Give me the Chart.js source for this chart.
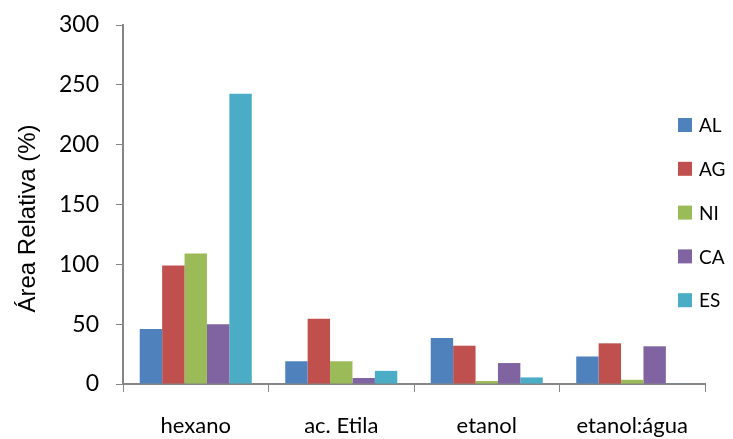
<!DOCTYPE html>
<html>
<head>
<meta charset="utf-8">
<script src="https://cdn.jsdelivr.net/npm/chart.js@4"></script>
<style>
    body { margin: 0; background: #fff; }
    #chart { display: block; }
</style>
</head>
<body>
<canvas id="chart" width="733" height="439"></canvas>
<script>
const categories = ['hexano', 'ac. Etila', 'etanol', 'etanol:água'];
const seriesNames = ['AL', 'AG', 'NI', 'CA', 'ES'];
const alValues = [46, 19, 38.5, 23];
const agValues = [99, 54.5, 32, 34];
const niValues = [109, 19, 2.5, 3.5];
const caValues = [50, 5, 17.5, 31.5];
const esValues = [242.5, 11, 5.5, 0.5];
const yTicks = [0, 50, 100, 150, 200, 250, 300];
const yTitle = 'Área Relativa (%)';

const colors = ['#4F81BD', '#C0504D', '#9BBB59', '#8064A2', '#4BACC6'];
const allValues = [alValues, agValues, niValues, caValues, esValues];

const fontFamily = 'Lato, "Liberation Sans", sans-serif';

// legend drawn over the plot, the way the original sits; y title sits a bit low too
const extras = {
    id: 'extras',
    afterDraw(chart) {
        const ctx = chart.ctx;
        ctx.save();
        ctx.font = '19px ' + fontFamily;
        ctx.textBaseline = 'middle';
        chart.data.datasets.forEach((ds, i) => {
            const y = 125 + i * 43.8;
            ctx.fillStyle = ds.backgroundColor;
            ctx.fillRect(678, y - 7, 14, 14);
            ctx.fillStyle = '#000';
            ctx.fillText(ds.label, 699, y + 1);
        });
        ctx.restore();

        ctx.save();
        ctx.font = '24px "Liberation Sans", Arial, sans-serif';
        ctx.fillStyle = '#000';
        ctx.textAlign = 'center';
        ctx.textBaseline = 'alphabetic';
        ctx.translate(35, 218.5);
        ctx.rotate(-Math.PI / 2);
        ctx.fillText(yTitle, 0, 0);
        ctx.restore();
    }
};

new Chart(document.getElementById('chart'), {
    type: 'bar',
    data: {
        labels: categories,
        datasets: seriesNames.map((name, i) => ({
            label: name,
            data: allValues[i],
            backgroundColor: colors[i],
            borderWidth: 0,
            categoryPercentage: 0.77,
            barPercentage: 1.0
        }))
    },
    options: {
        responsive: false,
        animation: false,
        layout: { padding: { top: 25, right: 28, left: 0, bottom: 0 } },
        plugins: {
            legend: { display: false },
            tooltip: { enabled: false }
        },
        scales: {
            x: {
                offset: true,
                afterFit(axis) { axis.height = 55; },
                grid: {
                    display: true,
                    drawOnChartArea: false,
                    offset: true,
                    color: '#868686',
                    tickLength: 8
                },
                border: { color: '#868686', width: 2 },
                ticks: {
                    color: '#000',
                    font: { size: 22, family: fontFamily },
                    padding: 21,
                    maxRotation: 0
                }
            },
            y: {
                min: 0,
                max: 300,
                afterBuildTicks(axis) {
                    axis.ticks = yTicks.map(v => ({ value: v }));
                },
                afterFit(axis) {
                    axis.width = 123;
                    axis.paddingTop = 0; // tick padding otherwise pushes the top down
                    axis.paddingBottom = 0;
                },
                grid: {
                    display: true,
                    drawOnChartArea: false,
                    color: '#868686',
                    tickLength: 7
                },
                border: { color: '#868686', width: 2 },
                ticks: {
                    color: '#000',
                    font: { size: 23, family: fontFamily },
                    padding: 17
                }
            }
        }
    },
    plugins: [extras]
});
</script>
</body>
</html>
